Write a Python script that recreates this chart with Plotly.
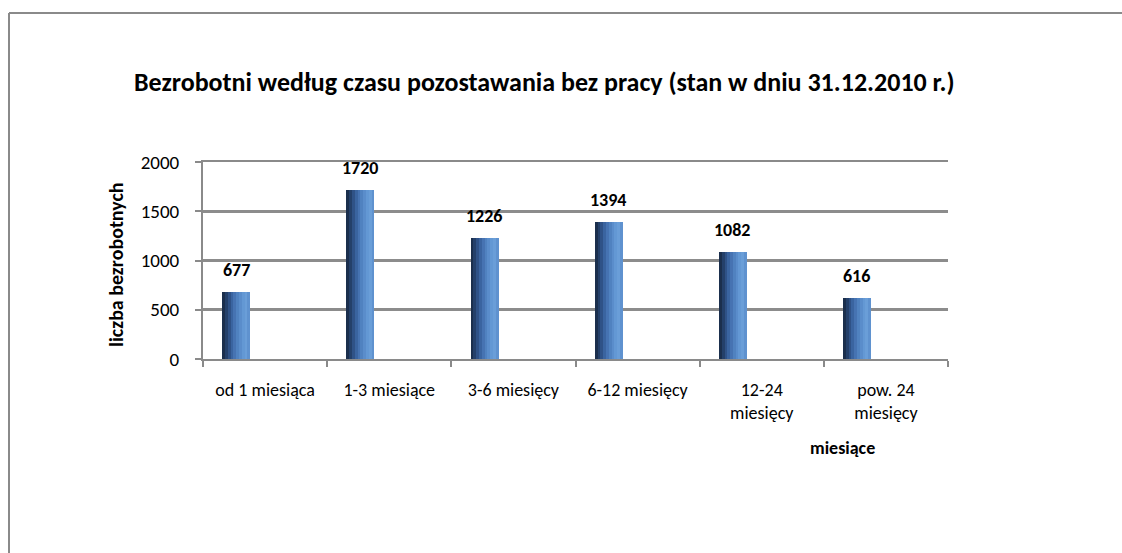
import plotly.graph_objects as go

categories = ["od 1 miesiąca", "1-3 miesiące", "3-6 miesięcy", "6-12 miesięcy",
              "12-24<br>miesięcy", "pow. 24<br>miesięcy"]
values = [677, 1720, 1226, 1394, 1082, 616]
y_ticks = [0, 500, 1000, 1500, 2000]

title_text = "Bezrobotni według czasu pozostawania bez pracy (stan w dniu 31.12.2010 r.)"
y_title = "liczba bezrobotnych"
x_title = "miesiące"

FONT = "Carlito, 'Liberation Sans Narrow', 'Arial Narrow', 'Open Sans', sans-serif"

# gradient slices for the cylinder-like bars (dark left -> light right)
slice_colors = ["#1b2f4d", "#24406a", "#2f5287", "#3a64a0", "#4673b2",
                "#5082c0", "#5a8dcb", "#6398d4", "#6a9ed8", "#5f92cf"]
bar_offset = -0.345
bar_width = 0.225
n = len(slice_colors)
sw = bar_width / n

fig = go.Figure()
for k, col in enumerate(slice_colors):
    fig.add_trace(go.Bar(
        x=categories, y=values,
        offset=bar_offset + k * sw, width=sw * 1.05,
        marker=dict(color=col, line=dict(width=0)),
        showlegend=False, hoverinfo="skip",
    ))

# labels above bars
for c, v in zip(categories, values):
    fig.add_annotation(x=c, y=v, text=f"<b>{v}</b>", showarrow=False,
                       xshift=-29, yshift=22, xanchor="center", yanchor="middle",
                       font=dict(family=FONT, size=18, color="#000000"))

W, H = 1122, 553
L, R, T, B = 203, 948, 162, 359

def px(x):
    return (x - L) / (R - L)

def py(y):
    return (B - y) / (B - T)

# chart border (top and left visible)
fig.add_shape(type="line", xref="paper", yref="paper",
              x0=px(9), x1=px(1122), y0=py(13), y1=py(13),
              line=dict(color="#8a8a8a", width=2))
fig.add_shape(type="line", xref="paper", yref="paper",
              x0=px(9), x1=px(9), y0=py(13), y1=py(560),
              line=dict(color="#8a8a8a", width=2))

fig.add_annotation(xref="paper", yref="paper", x=px(544), y=py(82),
                   xanchor="center", yanchor="middle",
                   text=f"<b>{title_text}</b>", showarrow=False,
                   font=dict(family=FONT, size=26, color="#000000"))
fig.add_annotation(xref="paper", yref="paper", x=px(116), y=py(265),
                   xanchor="center", yanchor="middle",
                   text=f"<b>{y_title}</b>", showarrow=False, textangle=-90,
                   font=dict(family=FONT, size=20, color="#000000"))
fig.add_annotation(xref="paper", yref="paper", x=px(842), y=py(448),
                   xanchor="center", yanchor="middle",
                   text=f"<b>{x_title}</b>", showarrow=False,
                   font=dict(family=FONT, size=18, color="#000000"))

fig.update_layout(
    width=W, height=H,
    margin=dict(l=L, r=W - R, t=T, b=H - B),
    paper_bgcolor="white", plot_bgcolor="white",
    barmode="overlay", bargap=0,
    font=dict(family=FONT, size=18, color="#000000"),
)
fig.update_xaxes(
    type="category", tickson="boundaries", ticks="outside", ticklen=6,
    tickcolor="#8a8a8a", tickwidth=2,
    showline=True, linecolor="#8a8a8a", linewidth=2, mirror=True,
    showgrid=False, range=[-0.5, 5.5], ticklabelstandoff=13,
    tickfont=dict(family=FONT, size=18, color="#000000"),
)
fig.update_yaxes(
    range=[0, 2000], tickvals=y_ticks, ticks="outside", ticklen=6,
    tickcolor="#8a8a8a", tickwidth=2,
    showline=True, linecolor="#8a8a8a", linewidth=2,
    showgrid=True, gridcolor="#8c8c8c", gridwidth=3,
    zeroline=False, ticklabelstandoff=12,
    tickfont=dict(family=FONT, size=19, color="#000000"),
)

fig.write_html("out.html", config={"displayModeBar": False},
               post_script="document.body.style.margin='0';document.body.style.overflow='hidden';")
